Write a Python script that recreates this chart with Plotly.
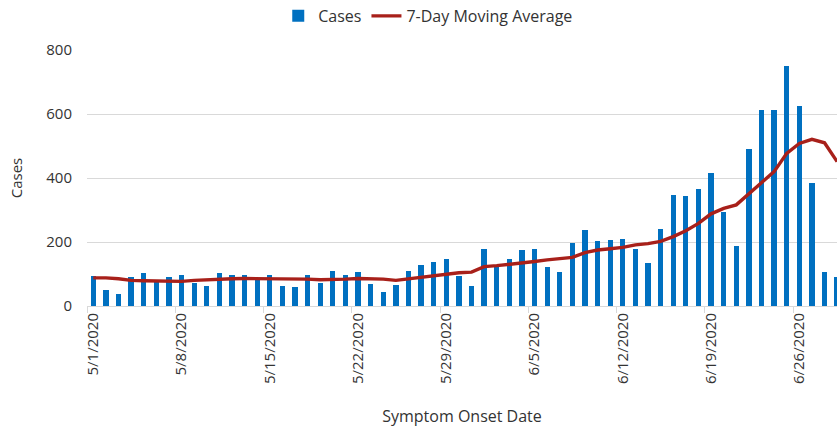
import pandas as pd
import plotly.graph_objects as go

dates = pd.date_range("2020-05-01", "2020-06-29", freq="D")
cases = [95, 50, 36, 90, 102, 80, 90, 98, 71, 62, 102, 96, 98, 85, 98, 64, 59, 98, 73, 110,
         98, 107, 69, 45, 67, 110, 128, 137, 148, 95, 64,
         177, 123, 146, 175, 179, 121, 105, 198, 236, 204, 206, 208, 177, 134, 240, 347, 343,
         365, 417, 293, 186, 490, 614, 614, 750, 625, 385, 107, 91]
moving_avg = [88, 88, 85, 80, 79, 78, 76, 77, 80, 82, 85, 85, 86, 86, 86, 86, 86, 84, 82, 82,
              84, 86, 86, 84, 80, 85, 90, 96, 99, 104, 106,
              123, 126, 130, 133, 139, 144, 149, 152, 167, 175, 179, 183, 191, 195, 202, 217, 235,
              258, 288, 305, 316, 350, 383, 420, 477, 508, 521, 510, 451]
tick_dates = ["2020-05-01", "2020-05-08", "2020-05-15", "2020-05-22", "2020-05-29",
              "2020-06-05", "2020-06-12", "2020-06-19", "2020-06-26"]
tick_labels = ["5/1/2020", "5/8/2020", "5/15/2020", "5/22/2020", "5/29/2020",
               "6/5/2020", "6/12/2020", "6/19/2020", "6/26/2020"]
y_ticks = [0, 200, 400, 600, 800]

DAY = 86400000
FONT = "Open Sans"
TXT = "#333333"

fig = go.Figure()
fig.add_trace(go.Bar(x=dates, y=cases, name="Cases", marker=dict(color="#0070C0", line=dict(width=0)),
                     width=0.42 * DAY))
fig.add_trace(go.Scatter(x=dates, y=moving_avg, name="7-Day Moving Average", mode="lines",
                         line=dict(color="#A8201A", width=3.4)))

fig.update_layout(
    width=837, height=433,
    margin=dict(l=87, r=0, t=50, b=127, autoexpand=False),
    paper_bgcolor="white", plot_bgcolor="white",
    font=dict(family=FONT, size=15, color=TXT),
    showlegend=True,
    legend=dict(orientation="h", x=0.455, y=1.133,
                xanchor="center", yanchor="middle", font=dict(size=16, color=TXT),
                itemwidth=30, tracegroupgap=0),
    bargap=0,
)
fig.update_xaxes(
    type="date", automargin=False,
    range=["2020-04-30 12:00", "2020-06-28 23:45"],
    tickvals=tick_dates, ticktext=tick_labels, tickangle=-90,
    ticks="", showgrid=False,
    showline=True, linecolor="#d9d9d9", linewidth=1,
    minor=dict(ticks="outside", tick0="2020-04-30 12:00", dtick=7 * DAY, ticklen=6,
               tickcolor="#d9d9d9", tickwidth=1, showgrid=False),
    title=dict(text="Symptom Onset Date", font=dict(size=16, color=TXT), standoff=27),
    tickfont=dict(size=15, color=TXT),
)
fig.update_yaxes(
    range=[0, 800], tickvals=y_ticks, automargin=False,
    showgrid=True, gridcolor="#d9d9d9", gridwidth=1,
    zeroline=False, showline=False, ticks="",
    ticklabelstandoff=14,
    title=dict(text="Cases", font=dict(size=15, color=TXT), standoff=20),
    tickfont=dict(size=15, color=TXT),
)

fig.write_html("out.html", config={"displayModeBar": False},
               post_script="document.body.style.margin='0';document.body.style.overflow='hidden';")
